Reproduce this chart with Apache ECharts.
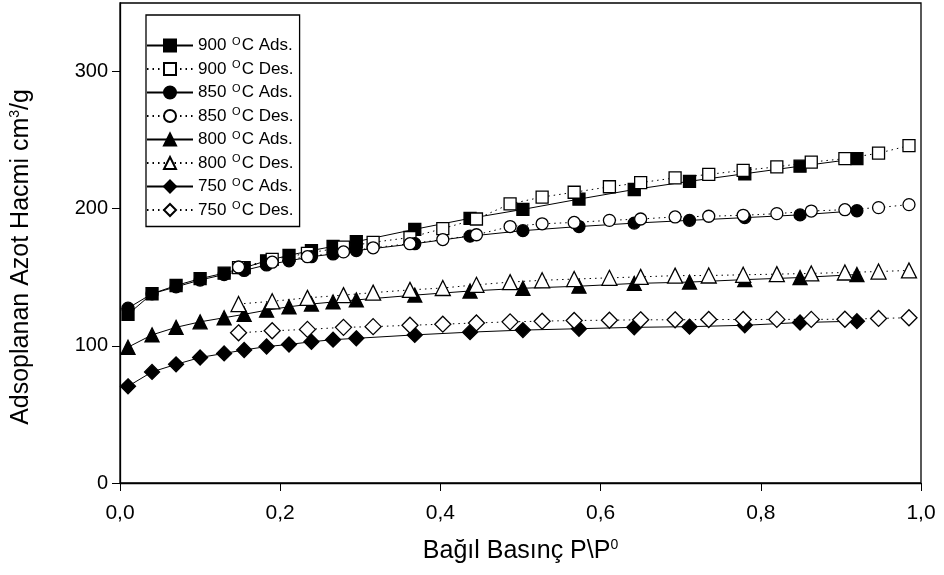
<!DOCTYPE html>
<html>
<head>
<meta charset="utf-8">
<script src="https://cdn.jsdelivr.net/npm/echarts@6/dist/echarts.min.js"></script>
<style>html,body{margin:0;padding:0;background:#fff}#c{width:944px;height:575px}</style>
</head>
<body>
<div id="c"></div>
<script>
const xAds = [0.01,0.04,0.07,0.10,0.13,0.155,0.183,0.211,0.239,0.266,0.295,0.368,0.437,0.503,0.573,0.642,0.711,0.78,0.849,0.92];
const xDes = [0.148,0.19,0.234,0.279,0.316,0.362,0.403,0.445,0.487,0.527,0.567,0.611,0.65,0.693,0.735,0.778,0.82,0.863,0.905,0.947,0.985];

const ads900 = [123,138,144,149,153,157,162,166,169.5,172.5,176,185,193,199.5,207,214,220,225.5,231,236.5];
const des900 = [157,163,167.5,172,175.5,179,185.5,192.5,203.5,208.5,212,216,219,222.5,225,228,230.5,234,236.5,240.5,246];
const ads850 = [127.5,138,143,148,152,155,159,162,165,167,169.5,174.5,180,184,187,189.5,191.5,193.5,195.5,198.5];
const des850 = [157.5,161,165,168.5,171.5,174.5,177.5,181,187,189,190,191.5,192.5,194,194.5,195.2,196.4,198.3,199.3,200.8,203];
const ads800 = [99,108,113.5,117.5,120.5,123,126,128.5,130.5,132,133.5,137,140,142,143.5,145.5,146.5,148.3,149.8,152];
const des800 = [130.5,132.5,135,137,138.8,140.8,142.2,144.5,146.5,147.8,148.7,149.6,150.3,151.2,151.3,151.8,152.3,152.8,153.5,154.2,155];
const ads750 = [70.5,81,86.5,91.5,94.5,97,99.5,101,103,104.5,105.5,108,110,111.5,112.5,113.5,114,115,117,118];
const des750 = [109.5,111,112,113.5,114,115,115.8,116.7,117.5,118,118.5,118.7,119,119,119.2,119.2,119.3,119.3,119.4,120,120.5];

const seriesNames = ['900 °C Ads.','900 °C Des.','850 °C Ads.','850 °C Des.','800 °C Ads.','800 °C Des.','750 °C Ads.','750 °C Des.'];
const xTicks = [0,0.2,0.4,0.6,0.8,1.0];
const yTicks = [0,100,200,300];

function pairs(xs, ys){ return xs.map((x,i)=>[x, ys[i]]); }

function mk(name, xs, ys, symbol, size, filled, dotted){
  return {
    name: name, type: 'line', data: pairs(xs, ys),
    symbol: symbol, symbolSize: size, showSymbol: true,
    lineStyle: {color:'#000', width: 1, type: dotted ? [1.5,4] : 'solid'},
    itemStyle: {color: filled ? '#000' : '#fff', borderColor:'#000', borderWidth: 1.3},
    emphasis: {disabled: true}, animation: false
  };
}

const F = 'Liberation Sans, Arial, sans-serif';
const chart = echarts.init(document.getElementById('c'), null, {renderer:'canvas'});
chart.setOption({
  backgroundColor:'#fff',
  animation:false,
  grid:{left:120, right:23, top:3, bottom:92, show:true, borderColor:'#000', borderWidth:1.3, backgroundColor:'transparent'},
  legend:{
    orient:'vertical', left:146, top:15,
    data: seriesNames,
    backgroundColor:'#fff', borderColor:'#000', borderWidth:1.3,
    padding:[21,6,8,0],
    itemWidth:46, itemHeight:15, itemGap:5.5, itemTextGap:10,
    textStyle:{color:'#000', fontSize:17, fontFamily:F,
      rich:{n:{fontSize:17, lineHeight:18, fontFamily:F, color:'#000'},
            s:{fontSize:11, fontFamily:F, color:'#000', padding:[0,1,8,1]}}},
    formatter: function(name){ const p = name.split('°'); return '{n|' + p[0] + '}{s|O}{n|' + p[1] + '}'; }
  },
  xAxis:{
    type:'value', min:0, max:1, interval:0.2,
    axisLine:{show:true, onZero:false, lineStyle:{color:'#000', width:1.3}},
    axisTick:{show:true, inside:false, length:8, lineStyle:{color:'#000'}, customValues: xTicks},
    splitLine:{show:false},
    axisLabel:{color:'#000', fontSize:21, margin:20, fontFamily:F,
      customValues: xTicks,
      formatter: v => v.toFixed(1).replace('.', ',')},
    name:'{n|Bağıl Basınç P\\P}{s|0}', nameLocation:'middle', nameGap:55,
    nameTextStyle:{color:'#000', rich:{n:{fontSize:25, color:'#000', fontFamily:F}, s:{fontSize:14, color:'#000', fontFamily:F, padding:[0,0,12,0]}}}
  },
  yAxis:{
    type:'value', min:0, max:350, interval:100,
    axisLine:{show:true, onZero:false, lineStyle:{color:'#000', width:1.3}},
    axisTick:{show:true, inside:false, length:8, lineStyle:{color:'#000'}, customValues: yTicks},
    splitLine:{show:false},
    axisLabel:{color:'#000', fontSize:20, margin:12, fontFamily:F, customValues: yTicks},
    name:'{n|Adsoplanan Azot Hacmi cm}{s|3}{n|/g}', nameLocation:'middle', nameGap:86,
    nameTextStyle:{color:'#000', padding:[0,28,0,0], rich:{n:{fontSize:25, color:'#000', fontFamily:F}, s:{fontSize:14, color:'#000', fontFamily:F, padding:[0,0,12,0]}}}
  },
  series:[
    mk(seriesNames[0], xAds, ads900, 'rect', 12, true, false),
    mk(seriesNames[1], xDes, des900, 'rect', 12, false, true),
    mk(seriesNames[2], xAds, ads850, 'circle', 12, true, false),
    mk(seriesNames[3], xDes, des850, 'circle', 12, false, true),
    mk(seriesNames[4], xAds, ads800, 'triangle', 14, true, false),
    mk(seriesNames[5], xDes, des800, 'triangle', 15, false, true),
    mk(seriesNames[6], xAds, ads750, 'diamond', 15, true, false),
    mk(seriesNames[7], xDes, des750, 'diamond', 16, false, true)
  ]
});
</script>
</body>
</html>
